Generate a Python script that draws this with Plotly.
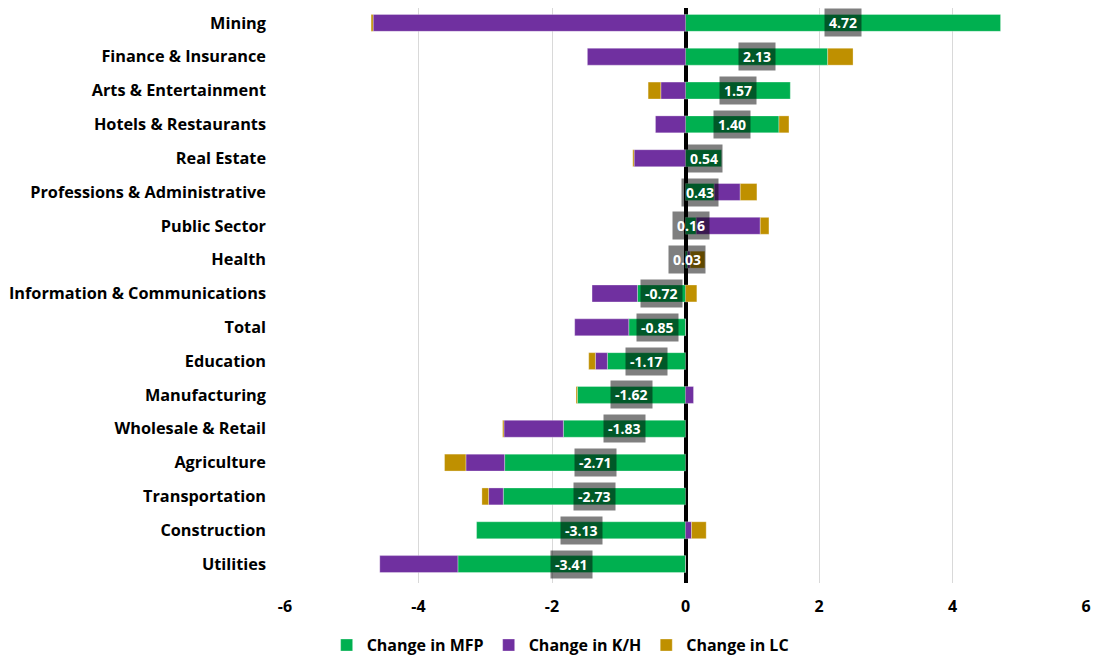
import plotly.graph_objects as go

categories = ["Mining", "Finance & Insurance", "Arts & Entertainment", "Hotels & Restaurants",
              "Real Estate", "Professions & Administrative", "Public Sector", "Health",
              "Information & Communications", "Total", "Education", "Manufacturing",
              "Wholesale & Retail", "Agriculture", "Transportation", "Construction", "Utilities"]
mfp = [4.72, 2.13, 1.57, 1.40, 0.54, 0.43, 0.16, 0.03, -0.72, -0.85, -1.17, -1.62,
       -1.83, -2.71, -2.73, -3.13, -3.41]
kh = [-4.68, -1.47, -0.37, -0.45, -0.77, 0.39, 0.96, 0.04, -0.68, -0.81, -0.18, 0.12,
      -0.89, -0.58, -0.22, 0.09, -1.17]
lc = [-0.03, 0.38, -0.19, 0.15, -0.02, 0.25, 0.13, 0.22, 0.17, 0.0, -0.10, -0.02,
      -0.02, -0.32, -0.10, 0.22, 0.0]
x_ticks = [-6, -4, -2, 0, 2, 4, 6]

FONT = "Open Sans"
fig = go.Figure()
for name, vals, col in [("Change in MFP", mfp, "#00B050"),
                        ("Change in K/H", kh, "#7030A0"),
                        ("Change in LC", lc, "#BF9000")]:
    fig.add_trace(go.Bar(y=categories, x=vals, name="<b>" + name + "</b>", orientation="h",
                         marker=dict(color=col, line=dict(color="rgba(255,255,255,0.6)", width=0.5)),
                         hoverinfo="x+y"))

for c, v in zip(categories, mfp):
    fig.add_annotation(x=v / 2, y=c, xref="x", yref="y", text="<b>%.2f</b>" % v,
                       showarrow=False, font=dict(family=FONT, size=14, color="white"),
                       bgcolor="rgba(0,0,0,0.5)", borderpad=4)

fig.update_layout(
    barmode="relative", bargap=0.5,
    width=1091, height=663,
    margin=dict(l=277, r=13, t=0, b=88),
    plot_bgcolor="white", paper_bgcolor="white",
    font=dict(family=FONT, size=15, color="black"),
    legend=dict(orientation="h", x=0.052, xanchor="left", y=-0.108, yanchor="middle",
                font=dict(family=FONT, size=16, color="black"), traceorder="normal"),
    showlegend=True,
)
fig.update_xaxes(range=[-6, 6], tickvals=x_ticks, ticktext=[f"<b>{t}</b>" for t in x_ticks],
                 showgrid=True, gridcolor="#D9D9D9", gridwidth=1,
                 zeroline=True, zerolinecolor="black", zerolinewidth=4,
                 tickfont=dict(family=FONT, size=16), ticklabelstandoff=12, showline=False,
                 automargin=False)
fig.update_yaxes(categoryorder="array", categoryarray=categories, range=[16.56, -0.44],
                 tickvals=categories, ticktext=[f"<b>{c}</b>" for c in categories],
                 tickfont=dict(family=FONT, size=16.3), ticklabelstandoff=18,
                 showgrid=False, showline=False, automargin=False)

fig.write_html("out.html")
